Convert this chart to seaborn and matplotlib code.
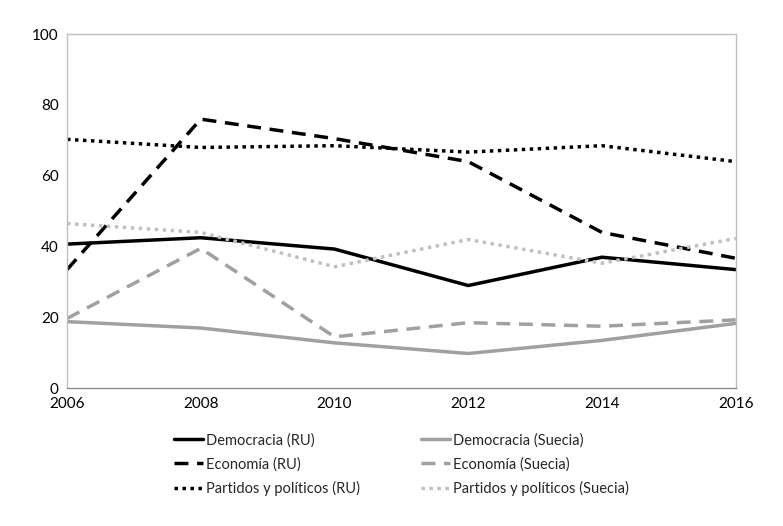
import matplotlib
matplotlib.use("Agg")
import matplotlib.pyplot as plt
import seaborn as sns
import pandas as pd

# Data
years = [2006, 2008, 2010, 2012, 2014, 2016]
democracia_ru = [40.7, 42.5, 39.3, 29.0, 37.0, 33.5]
economia_ru = [33.5, 76.0, 70.5, 64.0, 44.0, 36.7]
partidos_ru = [70.3, 68.0, 68.5, 66.7, 68.5, 64.0]
democracia_suecia = [18.8, 17.0, 12.8, 9.8, 13.5, 18.3]
economia_suecia = [19.7, 39.5, 14.5, 18.5, 17.5, 19.3]
partidos_suecia = [46.5, 44.0, 34.3, 42.0, 35.3, 42.3]

series = {
    "Democracia (RU)": democracia_ru,
    "Economía (RU)": economia_ru,
    "Partidos y políticos (RU)": partidos_ru,
    "Democracia (Suecia)": democracia_suecia,
    "Economía (Suecia)": economia_suecia,
    "Partidos y políticos (Suecia)": partidos_suecia,
}
styles = {
    "Democracia (RU)": dict(color="black", dashes=None),
    "Economía (RU)": dict(color="black", dashes=(4, 2.5)),
    "Partidos y políticos (RU)": dict(color="black", dashes=(1, 1.3)),
    "Democracia (Suecia)": dict(color="#a0a0a0", dashes=None),
    "Economía (Suecia)": dict(color="#a0a0a0", dashes=(4, 2.5)),
    "Partidos y políticos (Suecia)": dict(color="#c0c0c0", dashes=(1, 1.3)),
}

df = pd.DataFrame([
    {"year": y, "value": v, "serie": name}
    for name, vals in series.items() for y, v in zip(years, vals)
])

sns.set_theme(style="white")
plt.rcParams["font.family"] = ["Lato", "DejaVu Sans"]

fig = plt.figure(figsize=(7.83, 5.26), dpi=100)
ax = fig.add_axes([0.0856, 0.262, 0.854, 0.673])

for name in series:
    sub = df[df["serie"] == name]
    st = styles[name]
    sns.lineplot(data=sub, x="year", y="value", ax=ax, color=st["color"],
                 linewidth=2.5, label=name)
    l = ax.get_lines()[-1]
    if st["dashes"] is not None:
        l.set_dashes(st["dashes"])

ax.set_xlim(2006, 2016)
ax.set_ylim(0, 100)
ax.set_xticks(years)
ax.set_yticks([0, 20, 40, 60, 80, 100])
ax.set_xlabel("")
ax.set_ylabel("")
ax.tick_params(axis="both", labelsize=11, colors="black", length=0, pad=6)
for s in ax.spines.values():
    s.set_color("#bfbfbf")
    s.set_linewidth(1)
ax.spines["bottom"].set_color("#8c8c8c")

leg = ax.legend(ncol=2, loc="upper center", bbox_to_anchor=(0.5, -0.09),
                frameon=False, fontsize=10.5, handlelength=2.0, handletextpad=0.2,
                columnspacing=4.2, labelspacing=0.65)

fig.savefig("out.png", dpi=100)
